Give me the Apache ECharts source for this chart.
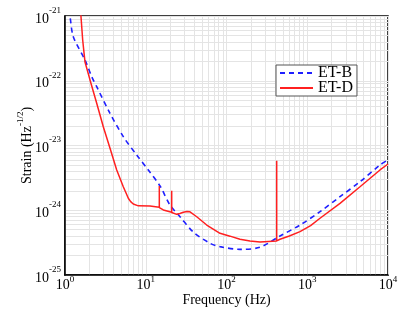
<!DOCTYPE html>
<html>
<head>
<meta charset="utf-8">
<script src="https://cdn.jsdelivr.net/npm/echarts@6/dist/echarts.min.js"></script>
<style>
  html, body { margin: 0; padding: 0; background: #fff; }
  #main { width: 419px; height: 324px; }
</style>
</head>
<body>
<div id="main"></div>
<script>
// ET-B noise curve [frequency Hz, strain]
var etB = [
  [1.1, 1.25e-21], [1.153, 9.76e-22], [1.267, 4.79e-22], [1.769, 2.09e-22],
  [2.141, 1.16e-22], [2.47, 8.09e-23], [3.61, 3.14e-23], [5.27, 1.37e-23],
  [7.73, 7.13e-24], [10.75, 4.19e-24], [15.02, 2.37e-24], [19.97, 1.2e-24],
  [26.56, 7.94e-25], [38.8, 4.61e-25], [62.5, 3.09e-25], [83.1, 2.74e-25],
  [147, 2.49e-25], [260, 2.68e-25], [459.8, 4.0e-25], [813, 5.91e-25],
  [1439, 9.51e-25], [2545, 1.62e-24], [4501, 2.76e-24], [7961, 5.0e-24],
  [10000, 5.97e-24]
];
// ET-D noise curve, including the narrow resonance spikes
var etD = [
  [1.556, 1.48e-21], [1.578, 9.76e-22], [1.656, 4.26e-22], [1.72, 2.7e-22],
  [1.769, 1.95e-22], [2.04, 1.03e-22], [2.47, 4.49e-23], [2.98, 1.95e-23],
  [3.61, 9.06e-24], [4.37, 4.19e-24], [5.27, 2.31e-24], [5.7, 1.85e-24],
  [6.08, 1.53e-24], [6.5, 1.36e-24], [7.01, 1.25e-24], [8.09, 1.17e-24],
  [11.29, 1.16e-24], [14.72, 1.11e-24], [14.72, 2.37e-24], [14.73, 1.1e-24],
  [16.5, 1.01e-24], [20.96, 9.29e-25], [20.96, 2.0e-24], [20.97, 9.25e-25],
  [24.17, 8.65e-25], [26.5, 8.9e-25], [29.17, 9.29e-25], [32.5, 9.55e-25],
  [35.3, 9.45e-25], [42.8, 7.94e-25], [56.9, 5.91e-25], [83.1, 4.4e-25],
  [110.5, 3.98e-25], [147, 3.56e-25], [195.4, 3.35e-25], [260, 3.22e-25],
  [418.5, 3.35e-25], [418.5, 5.82e-24], [418.6, 3.36e-25], [459.8, 3.56e-25],
  [600, 4.0e-25], [813, 4.67e-25], [1100, 5.8e-25], [1439, 7.52e-25],
  [2545, 1.28e-24], [4501, 2.31e-24], [7961, 4.19e-24], [10000, 5.18e-24]
];
var seriesNames = ['ET-B', 'ET-D'];
var xDecades = [0, 1, 2, 3];
var yDecades = [-25, -24, -23, -22];
var minorSteps = [2, 3, 4, 5, 6, 7, 8, 9];

// ECharts' log axis cannot handle values near 1e-25, so strain is plotted
// in units of 1e-25 and the labels shift the exponent back.
var yUnitExp = -25;
var yUnit = Math.pow(10, yUnitExp);
function toUnit(arr) {
  return arr.map(function (p) { return [p[0], p[1] / yUnit]; });
}

var font = 'Liberation Serif';
var gridColor = '#e4e4e4';

function powLabel(shift) {
  return function (v) {
    var e = Math.round(Math.log10(v)) + shift;
    return '{b|10}{s|' + e + '}';
  };
}
function powRich(lh) {
  return {
    b: { fontSize: 14, fontFamily: font, color: '#000', verticalAlign: 'bottom', lineHeight: lh },
    s: { fontSize: 9, fontFamily: font, color: '#000', verticalAlign: 'top', lineHeight: lh }
  };
}

var minorLines = [];
xDecades.forEach(function (d) {
  minorSteps.forEach(function (m) { minorLines.push({ xAxis: m * Math.pow(10, d) }); });
});
yDecades.forEach(function (d) {
  minorSteps.forEach(function (m) { minorLines.push({ yAxis: m * Math.pow(10, d - yUnitExp) }); });
});

var chart = echarts.init(document.getElementById('main'));
chart.setOption({
  animation: false,
  textStyle: { fontFamily: font },
  grid: {
    left: 65, right: 31, top: 16, bottom: 49,
    show: true, borderColor: '#000', borderWidth: 1.5
  },
  legend: {
    data: seriesNames,
    orient: 'vertical',
    left: 276, top: 65,
    padding: [0, 4, 0, 3],
    itemGap: -1,
    itemWidth: 33, itemHeight: 12,
    backgroundColor: '#fff',
    borderColor: '#555', borderWidth: 1, borderRadius: 0,
    itemStyle: { opacity: 0 },
    z: 10,
    textStyle: { fontFamily: font, fontSize: 16, color: '#000', padding: [0, 0, 0, 0] }
  },
  xAxis: {
    type: 'log', logBase: 10, min: 1, max: 10000,
    name: 'Frequency (Hz)', nameLocation: 'middle', nameGap: 18,
    nameMoveOverlap: false,
    nameTextStyle: { fontFamily: font, fontSize: 14, color: '#000' },
    axisLine: { lineStyle: { color: '#000', width: 1.5 } },
    axisTick: { show: false },
    axisLabel: { formatter: powLabel(0), rich: powRich(17), margin: 0 },
    splitLine: { show: true, lineStyle: { color: gridColor, width: 1 } }
  },
  yAxis: {
    type: 'log', logBase: 10, min: 1, max: 10000,
    name: '{n|Strain (Hz}{s|-1/2}{n|)}', nameLocation: 'middle', nameGap: 31, nameRotate: 90,
    nameMoveOverlap: false,
    nameTextStyle: {
      rich: {
        n: { fontFamily: font, fontSize: 14, color: '#000', verticalAlign: 'bottom', lineHeight: 18 },
        s: { fontFamily: font, fontSize: 9, color: '#000', verticalAlign: 'top', lineHeight: 18 }
      }
    },
    axisLine: { lineStyle: { color: '#000', width: 1.5 } },
    axisTick: { show: false },
    axisLabel: { formatter: powLabel(yUnitExp), rich: powRich(20), margin: 4 },
    splitLine: { show: true, lineStyle: { color: gridColor, width: 1 } }
  },
  series: [
    {
      name: 'grid',
      type: 'line',
      data: [],
      z: 0,
      silent: true,
      markLine: {
        silent: true,
        z: 0,
        symbol: 'none',
        label: { show: false },
        emphasis: { disabled: true },
        lineStyle: { color: gridColor, type: 'solid', width: 1 },
        data: minorLines
      }
    },
    {
      name: seriesNames[0],
      type: 'line',
      data: toUnit(etB),
      showSymbol: false,
      symbol: 'none',
      smooth: 0.3,
      z: 3,
      lineStyle: { color: '#1f1fff', width: 1.6, type: [5, 4] },
      itemStyle: { color: '#1f1fff' }
    },
    {
      name: seriesNames[1],
      type: 'line',
      data: toUnit(etD),
      showSymbol: false,
      symbol: 'none',
      z: 4,
      lineStyle: { color: '#ff2020', width: 1.5 },
      itemStyle: { color: '#ff2020' }
    }
  ]
});
</script>
</body>
</html>
